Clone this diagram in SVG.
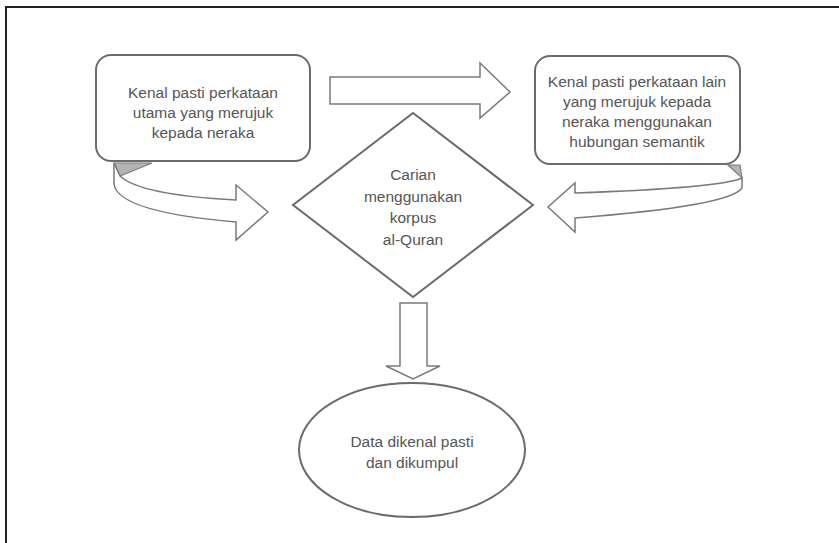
<svg xmlns="http://www.w3.org/2000/svg" width="839" height="543" viewBox="0 0 839 543">
<style>
.shape{fill:#fff;stroke:#6b6b6b;stroke-width:2}
.arrow{fill:#fff;stroke:#7a7a7a;stroke-width:1.5;stroke-linejoin:miter}
.shade{fill:#b5b5b5;stroke:#7a7a7a;stroke-width:1.2}
text{font-family:"Liberation Sans",Arial,sans-serif;font-size:15.5px;fill:#555;text-anchor:middle}
</style>
<rect width="839" height="543" fill="#fff"/>
<path d="M6,543 L6,7 L839,7" fill="none" stroke="#222" stroke-width="2"/>
<g id="connectors">
<path class="arrow" d="M330,77 L480,77 L480,63 L510,92 L480,118 L480,104 L330,104 Z"/>
<path class="shade" d="M114,163 L152,163 L120,176 Z"/>
<path class="arrow" d="M114,163 L114,184 Q118,212 236,222 L236,240 L268,212 L236,185 L236,200 Q140,195 120,176 Z"/>
<path class="shade" d="M740,165 L728,165 L742,178 Z"/>
<path class="arrow" d="M742,178 L742,188 Q730,206 575,218 L575,232 L548,207 L575,183 L575,193 Q720,188 742,178 Z"/>
<path class="arrow" d="M400,303 L427,303 L427,366 L440,366 L413,379 L386,366 L400,366 Z"/>
</g>
<g id="node-left">
<rect class="shape" x="96" y="55" width="214" height="106" rx="15"/>
<text x="203" y="98">Kenal pasti perkataan</text>
<text x="203" y="118">utama yang merujuk</text>
<text x="203" y="138">kepada neraka</text>
</g>
<g id="node-right">
<rect class="shape" x="535" y="56" width="205" height="108" rx="15"/>
<text x="637" y="87">Kenal pasti perkataan lain</text>
<text x="637" y="107">yang merujuk kepada</text>
<text x="637" y="127">neraka menggunakan</text>
<text x="637" y="147">hubungan semantik</text>
</g>
<g id="node-diamond">
<polygon class="shape" points="413,113 533,205 413,297 293,205"/>
<text x="413" y="180">Carian</text>
<text x="413" y="202">menggunakan</text>
<text x="413" y="223">korpus</text>
<text x="413" y="245">al-Quran</text>
</g>
<g id="node-ellipse">
<ellipse class="shape" cx="412" cy="450" rx="113" ry="67"/>
<text x="412" y="447">Data dikenal pasti</text>
<text x="412" y="468">dan dikumpul</text>
</g>
</svg>
